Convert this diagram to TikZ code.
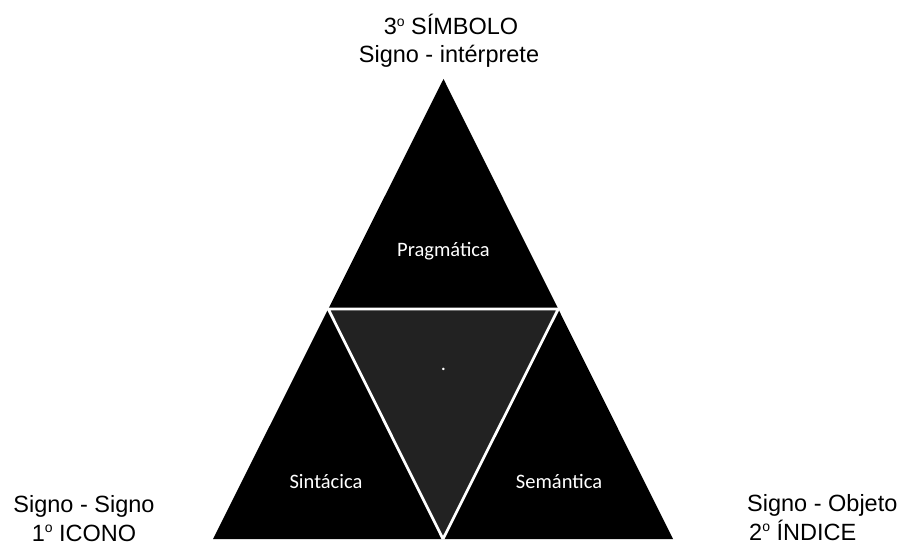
\documentclass[tikz,border=0pt]{standalone}
\usepackage{fontspec}
\setmainfont{Liberation Sans}
\newfontfamily\calibri{Carlito}
\usetikzlibrary{calc}
\definecolor{CoreGray}{HTML}{222222}
\newcommand{\ord}{\raisebox{8.8pt}{\fontsize{14}{14}\selectfont o}}
\tikzset{
  label/.style={font=\fontsize{23.5}{28}\selectfont,text=black,anchor=base,inner sep=0pt},
  field/.style={font=\calibri\fontsize{20.5}{24}\selectfont,text=white,anchor=base,inner sep=0pt},
  piece/.style={fill=black},
  core/.style={fill=CoreGray,draw=white,line width=2.7pt,line join=bevel},
}

\begin{document}
\begin{tikzpicture}[x=1pt,y=-1pt]
\useasboundingbox[fill=white] (0,0) rectangle (903,545);

% Corners of the big triangle
\coordinate (apex) at (443.5,79);
\coordinate (baseL) at (213,539);
\coordinate (baseR) at (673,539);
\coordinate (midL) at ($(apex)!0.5!(baseL)$);
\coordinate (midR) at ($(apex)!0.5!(baseR)$);
\coordinate (midB) at ($(baseL)!0.5!(baseR)$);

% Black pieces and inner triangle
\fill[piece] (apex) -- (baseL) -- (baseR) -- cycle;
\draw[core] (midL) -- (midR) -- (midB) -- cycle;

% Labels inside
\node[field] (pragmatica) at (443.5,257) {Pragmática};
\node[field] (sintacica) at (326,488) {Sintácica};
\node[field] (semantica) at (559,488) {Semántica};
\node[field] (punto) at (443.5,371) {.};

% Labels outside
\node[label] (simbolo) at (451,35) {3\ord{} SÍMBOLO};
\node[label] (simboloSub) at (449,63) {Signo - intérprete};
\node[label] (iconoSub) at (84,512) {Signo - Signo};
\node[label] (icono) at (84,541) {1\ord{} ICONO};
\node[label,anchor=base west] (indiceSub) at (747,511) {Signo - Objeto};
\node[label,anchor=base west] (indice) at (749,540) {2\ord{} ÍNDICE};

\end{tikzpicture}
\end{document}
